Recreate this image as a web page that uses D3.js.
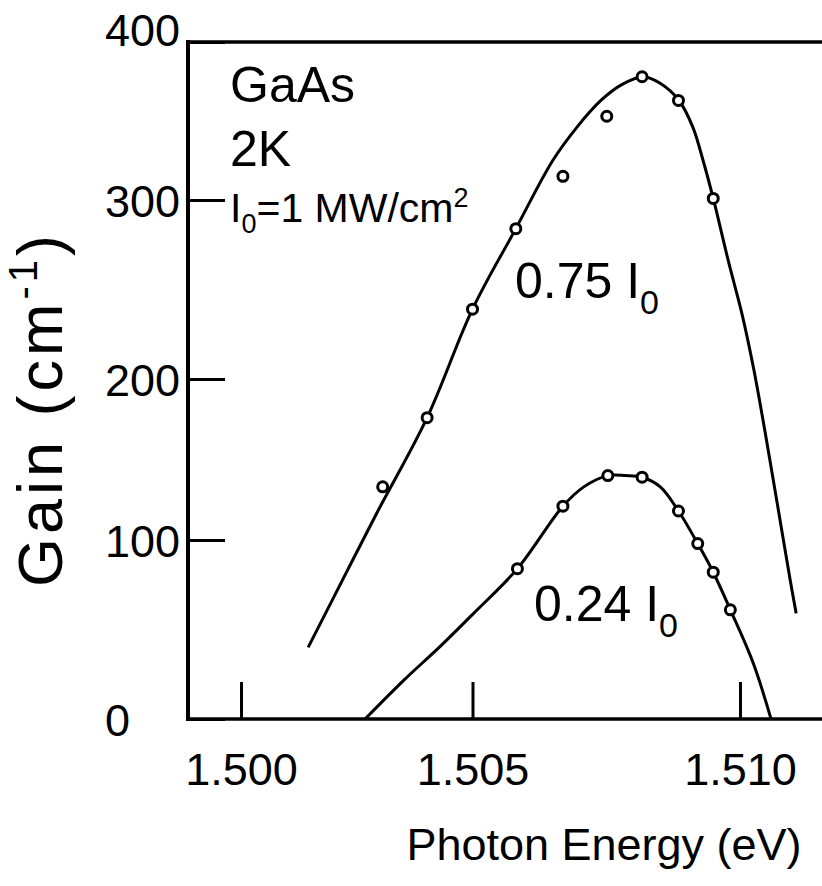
<!DOCTYPE html>
<meta charset="utf-8" />
<script src="https://d3js.org/d3.v7.min.js"></script>
<style>
  body { margin: 0; background: #fff; }
  text { font-family: "Liberation Sans", Arial, Helvetica, sans-serif; fill: #000; }
</style>
<body>
<div id="chart"></div>
<script>
  const energy075 = [1.50306, 1.50402, 1.50500, 1.50581, 1.50669, 1.50751, 1.50817, 1.50885, 1.50950];
  const gain075   = [133, 176, 239, 284, 315, 353, 378, 363, 301];
  const energy024 = [1.50584, 1.50669, 1.50753, 1.50817, 1.50885, 1.50921, 1.50950, 1.50982];
  const gain024   = [84, 121, 140, 139, 118, 98, 82, 61];

  // the drawn guide curves through the points
  const fitEnergy075 = [1.50145, 1.50218, 1.50292, 1.50402, 1.50500, 1.50581, 1.50650, 1.50695, 1.50740, 1.50779,
                        1.50819, 1.50850, 1.50886, 1.50912, 1.50931, 1.50950, 1.50979, 1.51004, 1.51026, 1.51049,
                        1.51071, 1.51093, 1.51105];
  const fitGain075   = [40, 77, 116, 176, 239, 284, 325, 346, 363, 373,
                        378, 374, 363, 346, 325, 301, 265, 236, 205, 163,
                        120, 79, 59];
  const fitEnergy024 = [1.50268, 1.50353, 1.50428, 1.50502, 1.50584, 1.50669, 1.50708, 1.50753, 1.50786,
                        1.50817, 1.50851, 1.50885, 1.50921, 1.50950, 1.50982, 1.51025, 1.51058];
  const fitGain024   = [0, 22, 40, 59, 84, 121, 133, 140, 140,
                        139, 133, 118, 98, 82, 61, 31, 0];

  const xTicks = [1.500, 1.505, 1.510];
  const yTicks = [0, 100, 200, 300, 400];

  const width = 822, height = 886;
  const left = 188, right = 822;

  const svg = d3.select("#chart")
    .append("svg")
      .attr("width", width)
      .attr("height", height);

  // the scanned original is not evenly spaced, so both scales are piecewise linear
  const x = d3.scaleLinear().domain(xTicks).range([241, 472.5, 740]);
  const y = d3.scaleLinear().domain(yTicks).range([719, 540, 379, 200, 42]);

  // x axis: ticks point inward, labels well below
  const xAxis = svg.append("g")
    .attr("transform", "translate(0," + y(0) + ")")
    .call(d3.axisBottom(x).tickValues(xTicks).tickFormat(d3.format(".3f"))
      .tickSizeInner(-37).tickSizeOuter(0));
  xAxis.select(".domain").remove();
  xAxis.selectAll(".tick line").attr("stroke", "#000").attr("stroke-width", 3);
  xAxis.selectAll(".tick text")
    .attr("y", 66).attr("dy", 0)
    .style("font-size", "45px");

  // y axis
  const yAxis = svg.append("g")
    .attr("transform", "translate(" + left + ",0)")
    .call(d3.axisLeft(y).tickValues(yTicks).tickSizeInner(-37).tickSizeOuter(0));
  yAxis.select(".domain").remove();
  yAxis.selectAll(".tick line").attr("stroke", "#000").attr("stroke-width", 3);
  yAxis.selectAll(".tick text")
    .attr("x", 105 - left)
    .attr("text-anchor", "start")
    .attr("dy", d => d === 400 ? "0.07em" : "0.36em")
    .style("font-size", "45px");

  // frame: left, top and bottom (right side runs off the picture)
  svg.append("line").attr("x1", left).attr("x2", left).attr("y1", y(400) - 2).attr("y2", y(0) + 2)
    .attr("stroke", "#000").attr("stroke-width", 4);
  svg.append("line").attr("x1", left).attr("x2", right).attr("y1", y(400)).attr("y2", y(400))
    .attr("stroke", "#000").attr("stroke-width", 3.5);
  svg.append("line").attr("x1", left).attr("x2", right).attr("y1", y(0)).attr("y2", y(0))
    .attr("stroke", "#000").attr("stroke-width", 3.5);

  // guide curves
  const line = d3.line()
    .x(d => x(d[0]))
    .y(d => y(d[1]))
    .curve(d3.curveCatmullRom.alpha(0.5));

  [[fitEnergy075, fitGain075], [fitEnergy024, fitGain024]].forEach(function(s) {
    svg.append("path")
      .datum(d3.zip(s[0], s[1]))
      .attr("d", line)
      .attr("fill", "none")
      .attr("stroke", "#000")
      .attr("stroke-width", 3);
  });

  // open circles
  [[energy075, gain075], [energy024, gain024]].forEach(function(s) {
    svg.append("g")
      .selectAll("circle")
      .data(d3.zip(s[0], s[1]))
      .enter()
      .append("circle")
        .attr("cx", d => x(d[0]))
        .attr("cy", d => y(d[1]))
        .attr("r", 5)
        .attr("fill", "#fff")
        .attr("stroke", "#000")
        .attr("stroke-width", 3);
  });

  // annotations
  svg.append("text").attr("x", 230).attr("y", 102).style("font-size", "50px").text("GaAs");
  svg.append("text").attr("x", 230).attr("y", 166).style("font-size", "50px").text("2K");

  const i0 = svg.append("text").attr("x", 230).attr("y", 222).style("font-size", "41px");
  i0.append("tspan").text("I");
  i0.append("tspan").attr("dy", 11).style("font-size", "27px").text("0");
  i0.append("tspan").attr("dy", -11).text("=1 MW/cm");
  i0.append("tspan").attr("dy", -15).style("font-size", "27px").text("2");

  function intensityLabel(xp, yp, value) {
    const t = svg.append("text").attr("x", xp).attr("y", yp).style("font-size", "50px");
    t.append("tspan").text(value + " I");
    t.append("tspan").attr("dy", 16).style("font-size", "34px").text("0");
  }
  intensityLabel(515, 298, "0.75");
  intensityLabel(534, 621, "0.24");

  // axis titles
  svg.append("text")
    .attr("x", 604).attr("y", 860)
    .attr("text-anchor", "middle")
    .style("font-size", "45px")
    .text("Photon Energy (eV)");

  const yTitle = svg.append("text")
    .attr("transform", "translate(62,409) rotate(-90)")
    .attr("text-anchor", "middle")
    .style("font-size", "63px")
    .style("letter-spacing", "4px");
  yTitle.append("tspan").text("Gain (cm");
  yTitle.append("tspan").attr("dy", -25).style("font-size", "40px").text("-1");
  yTitle.append("tspan").attr("dy", 25).text(")");
</script>
</body>
